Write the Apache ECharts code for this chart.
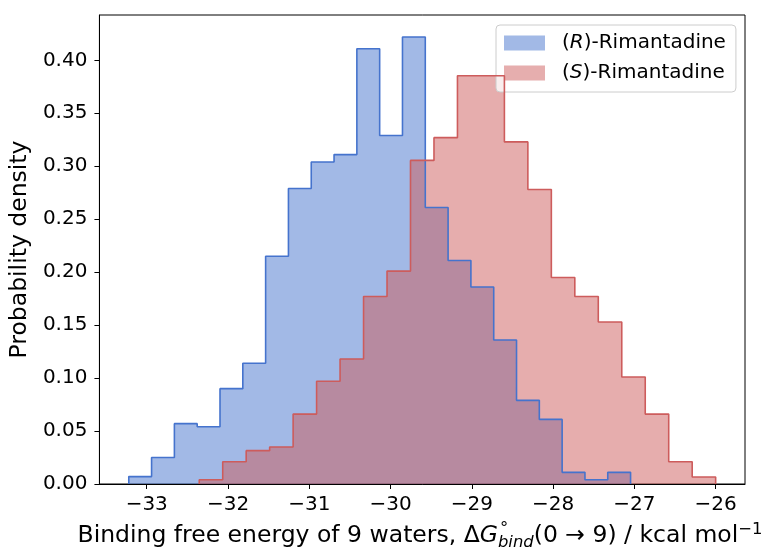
<!DOCTYPE html>
<html>
<head>
<meta charset="utf-8">
<script src="https://cdn.jsdelivr.net/npm/echarts@6/dist/echarts.min.js"></script>
<style>
  html, body { margin: 0; padding: 0; background: #ffffff; }
  #chart { width: 764px; height: 549px; }
</style>
</head>
<body>
<div id="chart"></div>
<script>
// Probability density per bin (22 equal-width bins) for each enantiomer
const rDensity = [0.007, 0.025, 0.057, 0.054, 0.090, 0.114, 0.215, 0.279, 0.304, 0.311, 0.411,
                  0.329, 0.422, 0.261, 0.211, 0.186, 0.136, 0.079, 0.061, 0.011, 0.004, 0.011];
const sDensity = [0.004, 0.021, 0.0315, 0.035, 0.066, 0.097, 0.118, 0.177, 0.201, 0.3055, 0.327,
                  0.3855, 0.3855, 0.323, 0.278, 0.195, 0.177, 0.153, 0.101, 0.066, 0.021, 0.0066];
// First and last bin edge of each histogram (kcal/mol)
const rRange = [-33.221, -27.047];
const sRange = [-32.354, -26.0];
// Axis ticks
const xTicks = [-33, -32, -31, -30, -29, -28, -27, -26];
const yTicks = [0, 0.05, 0.10, 0.15, 0.20, 0.25, 0.30, 0.35, 0.40];
const seriesNames = ['(R)-Rimantadine', '(S)-Rimantadine'];

const FONT = '"DejaVu Sans", "Liberation Sans", sans-serif';
const TICK_SIZE = 20;
const TITLE_SIZE = 23.5;
const blue = '#4573cd';
const red = '#cd5c5c';

// Turn bin densities into step-outline points: [edge, density], closed down to zero
function stepPoints(range, dens) {
  const n = dens.length;
  const w = (range[1] - range[0]) / n;
  const pts = [[range[0], 0]];
  dens.forEach((d, i) => pts.push([range[0] + i * w, d]));
  pts.push([range[1], dens[n - 1]]);
  pts.push([range[1], 0]);
  return pts;
}
const rPts = stepPoints(rRange, rDensity);
const sPts = stepPoints(sRange, sDensity);

// x-axis title with math-style sub/superscripts, laid out piece by piece
const measureCtx = document.createElement('canvas').getContext('2d');
function textWidth(t, font) { measureCtx.font = font; return measureCtx.measureText(t).width; }
function buildXTitle(cx, baseline) {
  const big = TITLE_SIZE, small = TITLE_SIZE * 0.7;
  const pieces = [
    { t: 'Binding free energy of 9 waters, Δ', size: big, style: 'normal', dy: 0 },
    { t: 'G', size: big, style: 'italic', dy: 0 },
    { t: '°', size: small, style: 'normal', dy: -10, dx: 2, stack: true },
    { t: 'bind', size: small, style: 'italic', dy: 4 },
    { t: '(0 → 9) / kcal mol', size: big, style: 'normal', dy: 0 },
    { t: '−1', size: small, style: 'normal', dy: -9 }
  ];
  let total = 0;
  pieces.forEach(p => {
    p.font = p.style + ' ' + p.size + 'px ' + FONT;
    p.w = textWidth(p.t, p.font);
    if (!p.stack) total += p.w;
  });
  let x = cx - total / 2;
  const els = [];
  pieces.forEach(p => {
    els.push({
      type: 'text',
      x: x + (p.dx || 0),
      y: baseline + p.dy - 0.346 * p.size,
      silent: true,
      style: {
        text: p.t, font: p.font, fill: '#000',
        align: 'left', verticalAlign: 'middle',
        textAlign: 'left', textVerticalAlign: 'middle'
      }
    });
    if (!p.stack) x += p.w;
  });
  return els;
}

const chart = echarts.init(document.getElementById('chart'), null, { renderer: 'canvas' });

const stepBase = {
  type: 'line', step: 'end', showSymbol: false, symbol: 'none',
  animation: false, silent: true
};

chart.setOption({
  animation: false,
  textStyle: { fontFamily: FONT },
  grid: {
    left: 98, top: 15, width: 647, height: 469,
    show: true, borderColor: '#000', borderWidth: 1, backgroundColor: 'transparent'
  },
  legend: {
    orient: 'vertical', left: 496, top: 25,
    padding: [8, 10, 9, 8],
    itemWidth: 41, itemHeight: 15, itemGap: 10,
    icon: 'rect',
    backgroundColor: 'rgba(255,255,255,0.8)',
    borderColor: '#cccccc', borderWidth: 1, borderRadius: 4,
    selectedMode: false,
    data: [
      { name: seriesNames[0], itemStyle: { color: '#a2b9e6', borderWidth: 0 } },
      { name: seriesNames[1], itemStyle: { color: '#e6aeae', borderWidth: 0 } }
    ],
    formatter: name => name.replace(/\((\w)\)/, '({i|$1})'),
    textStyle: {
      fontSize: 20, color: '#000', fontFamily: FONT, padding: [0, 0, 0, 12],
      rich: { i: { fontSize: 20, fontStyle: 'italic', color: '#000', fontFamily: FONT } }
    }
  },
  xAxis: {
    type: 'value', min: -33.582, max: -25.639,
    axisLine: { show: true, onZero: false, lineStyle: { color: '#000', width: 1 } },
    axisTick: { show: true, inside: false, length: 5, customValues: xTicks, lineStyle: { color: '#000', width: 1 } },
    axisLabel: {
      customValues: xTicks, margin: 11, fontSize: TICK_SIZE, color: '#000', fontFamily: FONT,
      formatter: v => String(Math.round(v)).replace('-', '\u2212')
    },
    splitLine: { show: false }
  },
  yAxis: {
    type: 'value', min: 0, max: 0.4428,
    name: 'Probability density', nameLocation: 'middle', nameGap: 60,
    nameTextStyle: { fontSize: TITLE_SIZE, color: '#000', fontFamily: FONT },
    axisLine: { show: true, lineStyle: { color: '#000', width: 1 } },
    axisTick: { show: true, inside: false, length: 5, customValues: yTicks, lineStyle: { color: '#000', width: 1 } },
    axisLabel: {
      customValues: yTicks, margin: 12, fontSize: TICK_SIZE, color: '#000', fontFamily: FONT,
      formatter: v => v.toFixed(2)
    },
    splitLine: { show: false }
  },
  series: [
    Object.assign({}, stepBase, {
      name: seriesNames[0], data: rPts, z: 2,
      itemStyle: { color: '#a2b9e6' },
      lineStyle: { width: 0, opacity: 0 },
      areaStyle: { color: blue, opacity: 0.5 }
    }),
    Object.assign({}, stepBase, {
      name: seriesNames[1], data: sPts, z: 3,
      itemStyle: { color: '#e6aeae' },
      lineStyle: { width: 0, opacity: 0 },
      areaStyle: { color: red, opacity: 0.5 }
    }),
    Object.assign({}, stepBase, {
      name: 'R outline', data: rPts, z: 4,
      itemStyle: { color: blue },
      lineStyle: { color: blue, width: 1.6 }
    }),
    Object.assign({}, stepBase, {
      name: 'S outline', data: sPts, z: 5,
      itemStyle: { color: red },
      lineStyle: { color: red, width: 1.6 }
    })
  ],
  graphic: buildXTitle(420, 544)
});
</script>
</body>
</html>
